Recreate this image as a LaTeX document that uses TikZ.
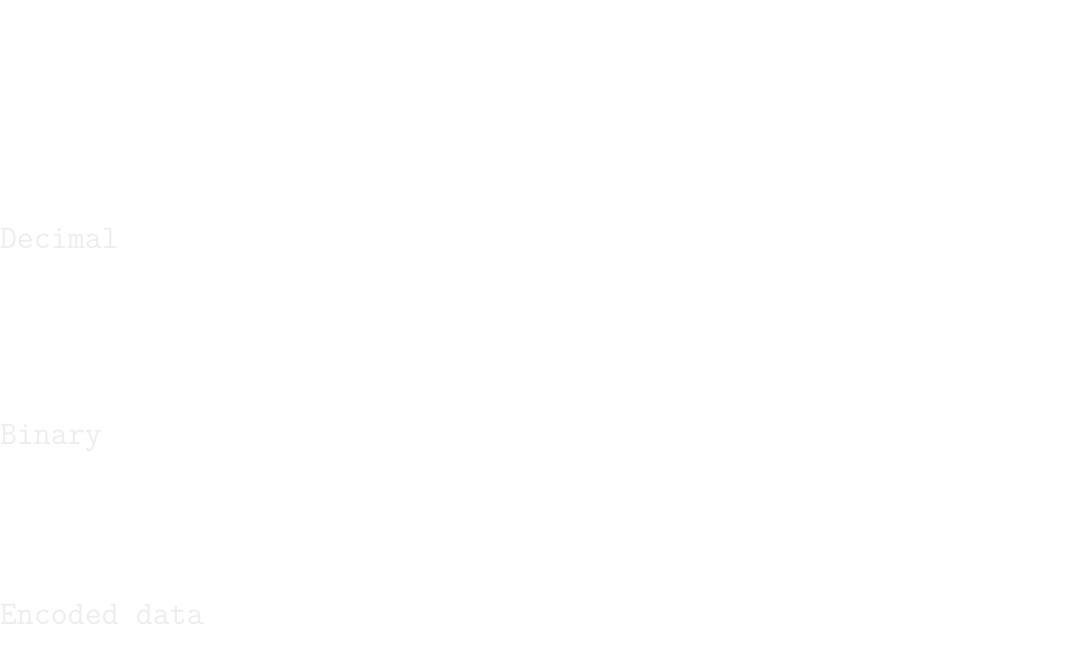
\documentclass[tikz,border=0pt]{standalone}
\definecolor{faint}{RGB}{238,238,238}
\tikzset{rowlabel/.style={anchor=base west, inner sep=0pt, outer sep=0pt, text=faint, font=\ttfamily\fontsize{33}{36}\selectfont}}
\begin{document}
\begin{tikzpicture}[x=1pt,y=-1pt]
\useasboundingbox[fill=white] (0,0) rectangle (1077,650);
\node[rowlabel] (decimal) at (0,248) {Decimal};
\node[rowlabel] (binary) at (0,444) {Binary};
\node[rowlabel] (encoded) at (0,624.5) {Encoded data};
\end{tikzpicture}
\end{document}
